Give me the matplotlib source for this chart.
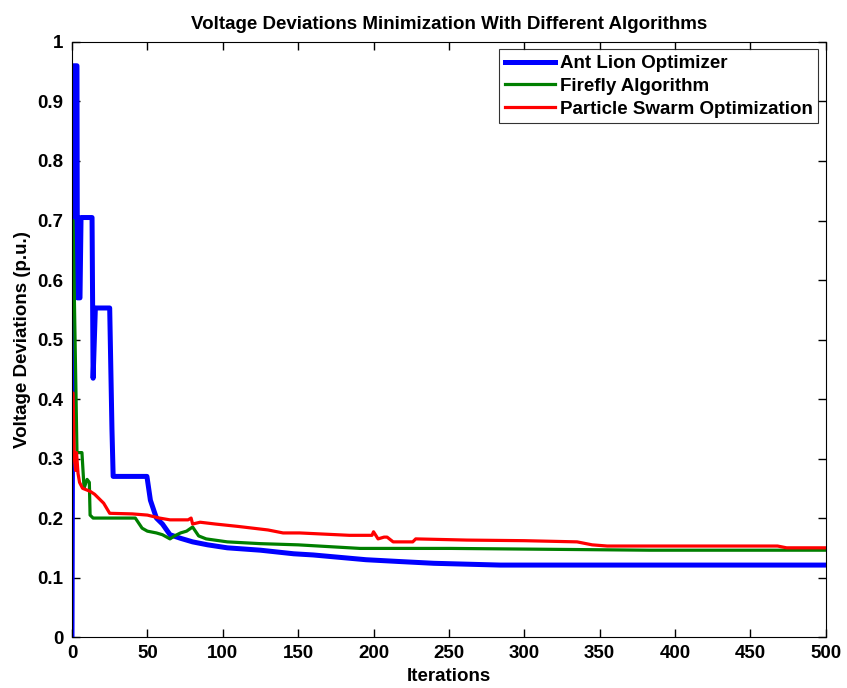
"""
Convergence curves of voltage deviation for three optimizers.
"""
import matplotlib
matplotlib.use("Agg")
import matplotlib.pyplot as plt

# Ant Lion Optimizer breakpoints (iteration, value)
alo_iter = [0, 1, 3.3, 3.6, 5.3, 6.0, 13.3, 14.0, 15.5, 25, 26.5, 27.3, 49.7,
            52, 56, 60, 65, 72, 80, 90, 103, 125, 147, 160, 195, 217, 240, 284, 500]
alo_vals = [0.0, 0.96, 0.96, 0.57, 0.57, 0.705, 0.705, 0.435, 0.553, 0.553, 0.35, 0.27, 0.27,
            0.23, 0.20, 0.19, 0.172, 0.166, 0.16, 0.155, 0.15, 0.146, 0.14, 0.138, 0.13, 0.127,
            0.124, 0.121, 0.121]

# Firefly Algorithm breakpoints
fa_iter = [0, 0.7, 3.3, 6.6, 8, 10, 11.5, 12, 14, 42, 46.5, 50, 56, 60, 65, 68, 72, 76,
           80, 84, 89, 103, 125, 150, 191, 251, 383, 500]
fa_vals = [0.70, 0.70, 0.31, 0.31, 0.25, 0.265, 0.26, 0.205, 0.20, 0.20, 0.183, 0.178,
           0.175, 0.172, 0.165, 0.17, 0.175, 0.178, 0.185, 0.17, 0.165, 0.16, 0.157, 0.155,
           0.149, 0.149, 0.146, 0.146]

# Particle Swarm Optimization breakpoints
pso_iter = [0, 0.7, 1.5, 2.5, 3, 4, 5, 7, 12, 15, 17, 21, 25, 40, 50, 58, 65, 77, 79, 80,
            85, 95, 110, 120, 130, 140, 151, 184, 199, 200, 203, 207, 209, 213, 226, 228,
            262, 300, 335, 345, 355, 468, 474, 500]
pso_vals = [0.41, 0.41, 0.30, 0.28, 0.31, 0.275, 0.26, 0.25, 0.245, 0.24, 0.235, 0.225,
            0.208, 0.207, 0.205, 0.20, 0.197, 0.197, 0.20, 0.19, 0.193, 0.19, 0.186, 0.183,
            0.18, 0.175, 0.175, 0.171, 0.171, 0.177, 0.165, 0.168, 0.168, 0.16, 0.16, 0.165,
            0.163, 0.162, 0.16, 0.155, 0.153, 0.153, 0.15, 0.15]

x_ticks = list(range(0, 501, 50))
y_ticks = [i / 10 for i in range(11)]
y_tick_labels = ["0", "0.1", "0.2", "0.3", "0.4", "0.5", "0.6", "0.7", "0.8", "0.9", "1"]

plt.rcParams["font.family"] = ["Liberation Sans", "DejaVu Sans"]
plt.rcParams["font.weight"] = "bold"
fs = 13.5

fig = plt.figure(figsize=(8.47, 6.88), dpi=100)
ax = fig.add_axes([0.085, 0.074, 0.89, 0.865])

ax.plot(alo_iter, alo_vals, color="#0000ff", lw=3.6, label="Ant Lion Optimizer")
ax.plot(fa_iter, fa_vals, color="#007f00", lw=2.3, label="Firefly Algorithm")
ax.plot(pso_iter, pso_vals, color="#ff0000", lw=2.3, label="Particle Swarm Optimization")

ax.set_xlim(0, 500)
ax.set_ylim(0, 1)
ax.set_xticks(x_ticks)
ax.set_yticks(y_ticks)
ax.set_yticklabels(y_tick_labels)
ax.tick_params(direction="in", top=True, right=True, length=6, width=1,
               labelsize=fs, pad=6)
for lbl in ax.get_xticklabels() + ax.get_yticklabels():
    lbl.set_fontweight("bold")

ax.set_title("Voltage Deviations Minimization With Different Algorithms",
             fontsize=fs, fontweight="bold", pad=9)
ax.set_xlabel("Iterations", fontsize=fs, fontweight="bold", labelpad=4)
ax.set_ylabel("Voltage Deviations (p.u.)", fontsize=fs, fontweight="bold", labelpad=5)

leg = ax.legend(loc="upper right", fontsize=fs, frameon=True, fancybox=False,
                edgecolor="black", handlelength=2.67, handletextpad=0.27,
                borderpad=0.3, labelspacing=0.3, borderaxespad=0.4)
leg.get_frame().set_linewidth(0.8)
for t in leg.get_texts():
    t.set_fontweight("bold")

fig.savefig("out.png", dpi=100)
